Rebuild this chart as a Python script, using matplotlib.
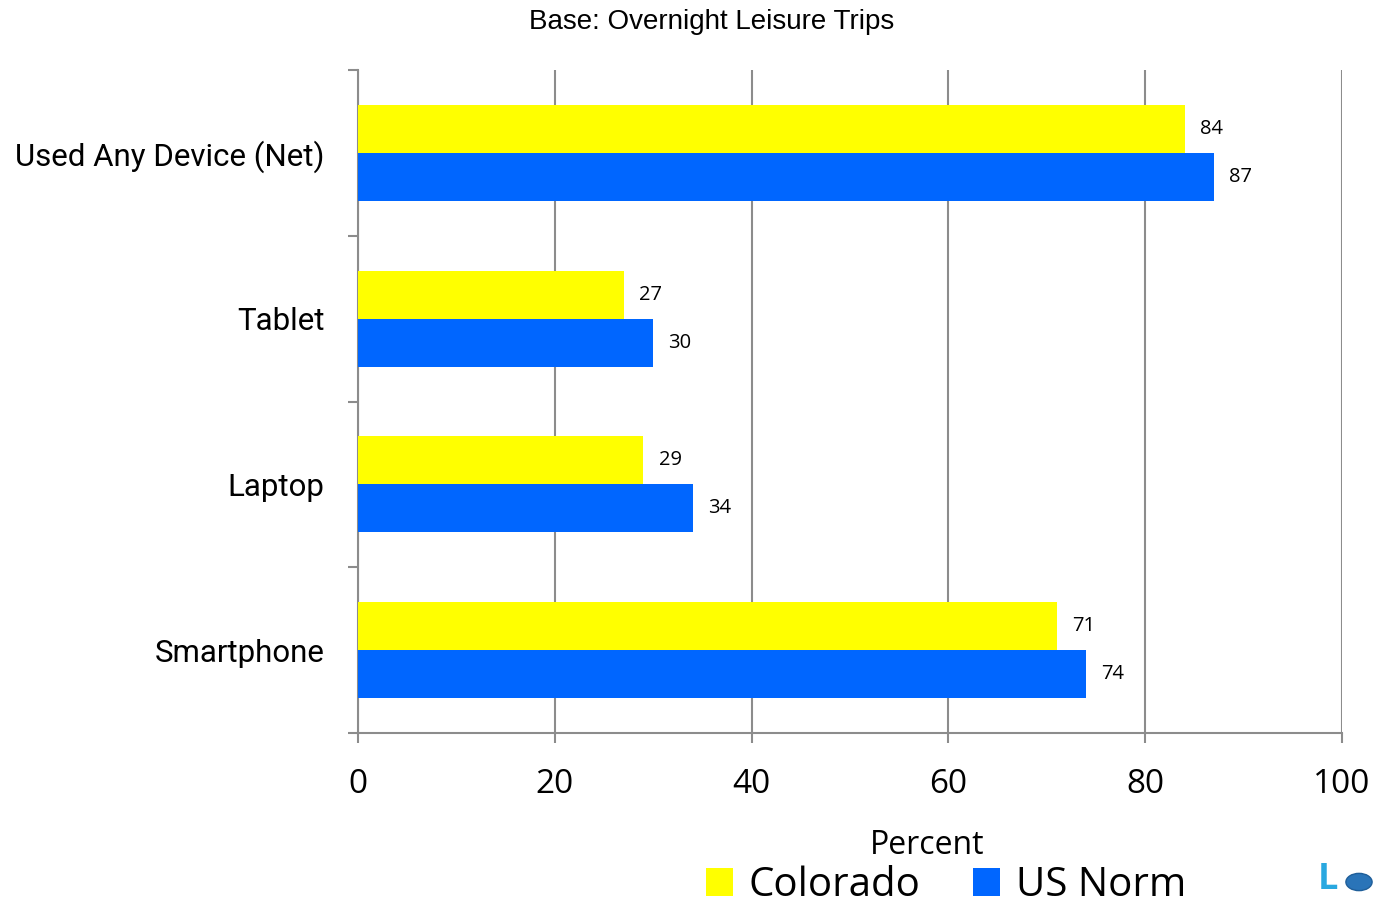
import matplotlib; matplotlib.use("Agg")
import matplotlib.pyplot as plt
from matplotlib.patches import Patch
import numpy as np

categories = ["Used Any Device (Net)", "Tablet", "Laptop", "Smartphone"]
colorado = [84, 27, 29, 71]
us_norm = [87, 30, 34, 74]
series_names = ["Colorado", "US Norm"]
xticks = [0, 20, 40, 60, 80, 100]

plt.rcParams["font.family"] = ["Open Sans", "DejaVu Sans"]

YEL = "#FFFF00"; BLU = "#0066FF"; GRY = "#8C8C8C"

fig = plt.figure(figsize=(13.78, 9.08), dpi=100)
ax = fig.add_axes([358/1378, 1-733/908, (1342-358)/1378, (733-70)/908])

y = np.arange(len(categories))
h = 0.29
b1 = ax.barh(y - h/2, colorado, height=h, color=YEL, zorder=3)
b2 = ax.barh(y + h/2, us_norm, height=h, color=BLU, zorder=3)
for bars, vals in ((b1, colorado), (b2, us_norm)):
    for bar, v in zip(bars, vals):
        ax.annotate(f"{v}", (v, bar.get_y() + bar.get_height()/2), xytext=(11, 0),
                    textcoords="offset points", va="center", ha="left", fontsize=14.5)

ax.set_xlim(0, 100); ax.set_ylim(len(categories) - 0.5, -0.5)
ax.set_xticks(xticks)
ax.set_xticklabels([str(t) for t in xticks], fontsize=24)
ax.tick_params(axis="x", length=7.5, width=1.5, color=GRY, pad=18)
ax.set_yticks(y)
ax.set_yticklabels(categories, fontsize=22.5, family="Roboto")
ax.tick_params(axis="y", which="major", length=0, pad=24)
ax.set_yticks(np.arange(-0.5, len(categories)), minor=True)
ax.tick_params(axis="y", which="minor", length=7.5, width=1.5, color=GRY)
ax.grid(axis="x", color=GRY, linewidth=1.5, zorder=0)
for s in ("top", "right"):
    ax.spines[s].set_visible(False)
for s in ("left", "bottom"):
    ax.spines[s].set_color(GRY); ax.spines[s].set_linewidth(1.5)
ax.spines["bottom"].set_zorder(4)

fig.text(712/1378, 1-22/908, "Base: Overnight Leisure Trips", ha="center", va="center",
         fontsize=20, family="Liberation Sans")
fig.text(927/1378, 1-845/908, "Percent", ha="center", va="center", fontsize=23)

handles = [Patch(facecolor=YEL), Patch(facecolor=BLU)]
fig.legend(handles, series_names, loc="center", bbox_to_anchor=(946/1378, 1-886/908),
           ncol=2, frameon=False, fontsize=29, handlelength=0.67, handleheight=0.67,
           handletextpad=0.4, columnspacing=1.3, borderpad=0)

# small logo mark
fig.text(1318/1378, 1-880/908, "L", color="#29A8E0", fontsize=26, fontweight="bold",
         ha="left", va="center")
fig.patches.append(plt.Circle((1359/1378, 1-882/908), 0.0095, transform=fig.transFigure,
                              facecolor="#2A74B8", edgecolor="#1F5E99"))

fig.savefig("out.png", dpi=100)
